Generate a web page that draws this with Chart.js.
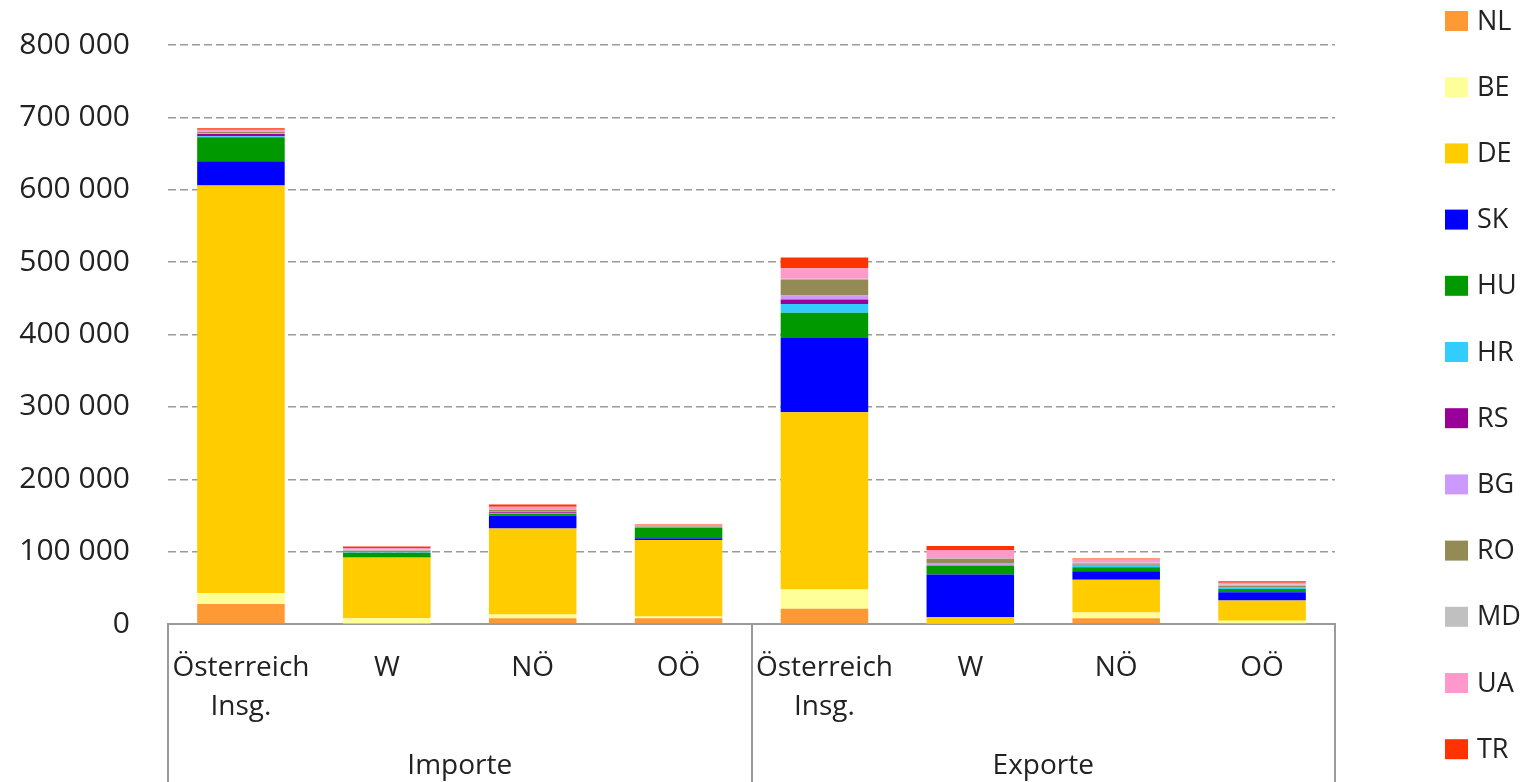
<!DOCTYPE html>
<html>
<head>
<meta charset="utf-8">
<script src="https://cdn.jsdelivr.net/npm/chart.js@4"></script>
<style>
  body { margin: 0; background: #fff; }
  #wrap { width: 1530px; height: 782px; position: relative; }
</style>
</head>
<body>
<div id="wrap"><canvas id="chart"></canvas></div>
<script>
// categories (Importe: first four, Exporte: last four)
const categories = [["Österreich", "Insg."], "W", "NÖ", "OÖ", ["Österreich", "Insg."], "W", "NÖ", "OÖ"];
const groups = ["Importe", "Exporte"];

// series values
const NL = [27500, 500, 8000, 8000, 21000, 500, 8000, 1000];
const BE = [15500, 7500, 5000, 2500, 26500, 500, 8000, 3500];
const DE = [563000, 84000, 119000, 105500, 245000, 8500, 45000, 28000];
const SK = [33500, 500, 17500, 2500, 102500, 59000, 12000, 11500];
const HU = [33000, 6000, 3000, 14500, 35000, 12000, 5500, 4500];
const HR = [1500, 500, 1000, 500, 12000, 500, 2500, 1500];
const RS = [3000, 300, 1000, 300, 6500, 300, 500, 500];
const BG = [1000, 300, 500, 300, 5500, 3000, 500, 500];
const RO = [2000, 1500, 2500, 700, 22000, 6000, 1500, 2000];
const MD = [1000, 2000, 1500, 700, 1000, 500, 1500, 1500];
const UA = [2000, 2000, 3000, 500, 14500, 11500, 4000, 2500];
const TR = [2000, 2000, 3000, 1500, 15000, 5500, 1500, 2000];

const yTicks = [0, 100000, 200000, 300000, 400000, 500000, 600000, 700000, 800000];

const series = [
  { label: "NL", data: NL, color: "#FF9933" },
  { label: "BE", data: BE, color: "#FFFF99" },
  { label: "DE", data: DE, color: "#FFCC00" },
  { label: "SK", data: SK, color: "#0000FF" },
  { label: "HU", data: HU, color: "#009900" },
  { label: "HR", data: HR, color: "#33CCFF" },
  { label: "RS", data: RS, color: "#990099" },
  { label: "BG", data: BG, color: "#CC99FF" },
  { label: "RO", data: RO, color: "#948A54" },
  { label: "MD", data: MD, color: "#C0C0C0" },
  { label: "UA", data: UA, color: "#FF99CC" },
  { label: "TR", data: TR, color: "#FF3300" }
];

const FONT = "'Open Sans', 'DejaVu Sans', sans-serif";
const TEXT = "#222";
const LINE = "#9a9a9a";

function fmt(v) {
  return String(v).replace(/\B(?=(\d{3})+(?!\d))/g, " ");
}

// group labels and separators under the x axis
const groupPlugin = {
  id: "groups",
  afterDraw(chart) {
    const { ctx, scales: { x } } = chart;
    const half = (x.getPixelForValue(1) - x.getPixelForValue(0)) / 2;
    const edges = [x.getPixelForValue(0) - half, x.getPixelForValue(4) - half, x.getPixelForValue(7) + half];
    ctx.save();
    ctx.strokeStyle = LINE;
    ctx.lineWidth = 2;
    edges.forEach(px => {
      ctx.beginPath();
      ctx.moveTo(Math.round(px), x.top);
      ctx.lineTo(Math.round(px), chart.height);
      ctx.stroke();
    });
    ctx.fillStyle = TEXT;
    ctx.font = "28px " + FONT;
    ctx.textAlign = "center";
    ctx.textBaseline = "middle";
    groups.forEach((g, i) => {
      ctx.fillText(g, (edges[i] + edges[i + 1]) / 2, 766);
    });
    ctx.restore();
  }
};

// legend column on the right
const legendPlugin = {
  id: "sideLegend",
  afterDraw(chart) {
    const { ctx } = chart;
    ctx.save();
    ctx.font = "27px " + FONT;
    ctx.textAlign = "left";
    ctx.textBaseline = "middle";
    chart.data.datasets.forEach((ds, i) => {
      const y = 21 + i * 66.2;
      ctx.fillStyle = ds.backgroundColor;
      ctx.fillRect(1445, y - 10, 23, 20);
      ctx.fillStyle = TEXT;
      ctx.fillText(ds.label, 1477, y + 1);
    });
    ctx.restore();
  }
};

new Chart(document.getElementById("chart"), {
  type: "bar",
  data: {
    labels: categories,
    datasets: series.map(s => ({
      label: s.label,
      data: s.data,
      backgroundColor: s.color,
      borderWidth: 0,
      barPercentage: 0.6,
      categoryPercentage: 1
    }))
  },
  options: {
    responsive: true,
    maintainAspectRatio: false,
    animation: false,
    layout: { padding: { top: 45, right: 195, bottom: 0, left: 0 } },
    plugins: {
      legend: { display: false },
      tooltip: { enabled: false }
    },
    scales: {
      x: {
        stacked: true,
        afterFit: s => { s.height = 158; s.paddingLeft = 0; s.paddingRight = 0; },
        grid: { display: false, drawTicks: false },
        border: { display: true, color: LINE, width: 2 },
        ticks: {
          color: TEXT,
          padding: 24,
          maxRotation: 0,
          autoSkip: false,
          font: { family: FONT, size: 28, lineHeight: 1.4 }
        }
      },
      y: {
        stacked: true,
        min: 0,
        max: 800000,
        afterFit: s => { s.width = 168; s.paddingTop = 0; s.paddingBottom = 0; },
        afterBuildTicks: s => { s.ticks = yTicks.map(v => ({ value: v })); },
        grid: {
          color: ctx => ctx.tick && ctx.tick.value === 0 ? "rgba(0,0,0,0)" : LINE,
          lineWidth: 1.5,
          drawTicks: false
        },
        border: { display: false, dash: [8, 4] },
        ticks: {
          color: TEXT,
          padding: 38,
          font: { family: FONT, size: 30 },
          callback: v => fmt(v)
        }
      }
    }
  },
  plugins: [groupPlugin, legendPlugin]
});
</script>
</body>
</html>
